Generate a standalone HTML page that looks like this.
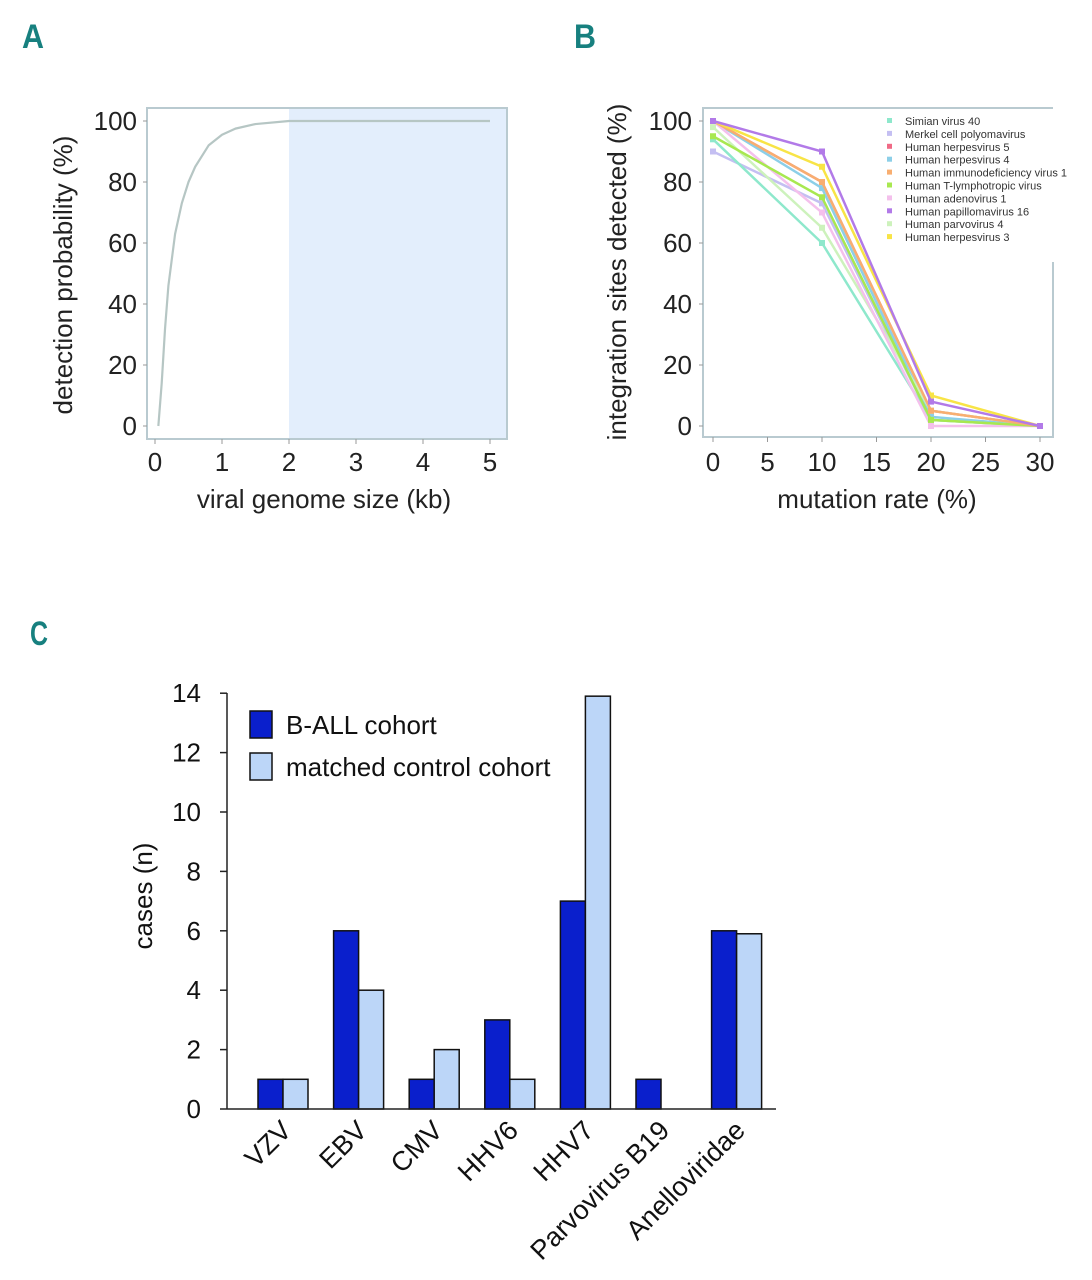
<!DOCTYPE html>
<html><head><meta charset="utf-8"><style>
html,body{margin:0;padding:0;background:#fff;}
svg{display:block;font-family:"Liberation Sans",sans-serif;}
.pl{font-family:"Liberation Sans Narrow","Liberation Sans",sans-serif;font-weight:bold;fill:#17807f;font-size:34px;}
</style></head><body>
<svg id="fig" width="1092" height="1280" viewBox="0 0 1092 1280">
<text class="pl" x="22" y="48" textLength="22" lengthAdjust="spacingAndGlyphs">A</text>
<text class="pl" x="574" y="48" textLength="22" lengthAdjust="spacingAndGlyphs">B</text>
<text class="pl" x="30" y="645" textLength="18" lengthAdjust="spacingAndGlyphs">C</text>
<g id="pa"></g>
<g id="pb"></g>
<g id="pc"></g>
</svg>
<script>
// Panel A data
const aX=[0.05,0.1,0.15,0.2,0.3,0.4,0.5,0.6,0.8,1.0,1.2,1.5,2.0,3.0,4.0,5.0];
const aY=[0,14,32,46,63,73,80,85,92,95.5,97.5,99,100,100,100,100];
const aTicksX=[0,1,2,3,4,5];
const aTicksY=[0,20,40,60,80,100];
const aShadeFrom=2;
// Panel B data
const bX=[0,10,20,30];
const bNames=["Simian virus 40","Merkel cell polyomavirus","Human herpesvirus 5","Human herpesvirus 4","Human immunodeficiency virus 1","Human T-lymphotropic virus","Human adenovirus 1","Human papillomavirus 16","Human parvovirus 4","Human herpesvirus 3"];
const bColors=["#8ee8cc","#c4bff2","#f06a86","#8ccfe8","#f8ae70","#a8e850","#f4c0ec","#b27ae8","#cdf2bc","#f8e446"];
const bSV40=[94,60,2,0];
const bMerkel=[90,73,2,0];
const bHHV5=[100,80,5,0];
const bHHV4=[100,78,3,0];
const bHIV=[100,80,5,0];
const bHTLV=[95,75,2,0];
const bAdeno=[100,70,0,0];
const bHPV=[100,90,8,0];
const bParvo=[98,65,5,0];
const bHHV3=[100,85,10,0];
const bTicksX=[0,5,10,15,20,25,30];
const bTicksY=[0,20,40,60,80,100];
// Panel C data
const cCats=["VZV","EBV","CMV","HHV6","HHV7","Parvovirus B19","Anelloviridae"];
const cBall=[1,6,1,3,7,1,6];
const cCtrl=[1,4,2,1,13.9,0,5.9];
const cTicks=[0,2,4,6,8,10,12,14];

const NS="http://www.w3.org/2000/svg";
function mk(p,t,a,txt){const e=document.createElementNS(NS,t);for(const k in a)e.setAttribute(k,a[k]);if(txt!==undefined)e.textContent=txt;p.appendChild(e);return e;}

// ---- Panel A
(function(){
const g=document.getElementById('pa');
const x=v=>155+v*67, y=v=>426-v*3.05;
let e=mk(g,'rect',{x:x(aShadeFrom),y:108,width:507-x(aShadeFrom),height:331,fill:'#e3eefc'});

e=mk(g,'rect',{x:147,y:108,width:360,height:331,fill:'none',stroke:'#b9cad0','stroke-width':2});

let d=aX.map((v,i)=>(i?'L':'M')+x(v)+','+y(aY[i])).join('');
e=mk(g,'path',{d:d,fill:'none',stroke:'#b6c6c4','stroke-width':2.2,'stroke-linejoin':'round'});

aTicksY.forEach(v=>{mk(g,'line',{x1:143,x2:147,y1:y(v),y2:y(v),stroke:'#999'});
 e=mk(g,'text',{x:137,y:y(v)+9,'text-anchor':'end','font-size':26,fill:'#222'},v);
 });
aTicksX.forEach(v=>{mk(g,'line',{x1:x(v),x2:x(v),y1:439,y2:444,stroke:'#999'});
 e=mk(g,'text',{x:x(v),y:471,'text-anchor':'middle','font-size':26,fill:'#222'},v);
 });
e=mk(g,'text',{x:324,y:508,'text-anchor':'middle','font-size':26,fill:'#222'},'viral genome size (kb)');

e=mk(g,'text',{x:0,y:0,'text-anchor':'middle','font-size':26,fill:'#222',transform:'translate(72,275) rotate(-90)'},'detection probability (%)');

})();

// ---- Panel B
(function(){
const g=document.getElementById('pb');
const x=v=>713+v*10.9, y=v=>426-v*3.05;
let e=mk(g,'path',{d:'M1053,262 L1053,437 L703,437 L703,108 L1053,108',fill:'none',stroke:'#b9cad0','stroke-width':2});

const series=[bSV40,bMerkel,bHHV5,bHHV4,bHIV,bHTLV,bAdeno,bHPV,bParvo,bHHV3];
const order=[2,3,1,0,8,6,5,4,9,7];
order.forEach(i=>{const s=series[i];
 const gg=mk(g,'g',{});
 
 mk(gg,'path',{d:bX.map((v,j)=>(j?'L':'M')+x(v)+','+y(s[j])).join(''),fill:'none',stroke:bColors[i],'stroke-width':2.5});
 bX.forEach((v,j)=>{const c=mk(gg,'rect',{x:x(v)-3,y:y(s[j])-3,width:6,height:6,fill:bColors[i]});
  });
});
bTicksY.forEach(v=>{mk(g,'line',{x1:699,x2:703,y1:y(v),y2:y(v),stroke:'#999'});
 e=mk(g,'text',{x:692,y:y(v)+9,'text-anchor':'end','font-size':26,fill:'#222'},v);
 });
bTicksX.forEach(v=>{mk(g,'line',{x1:x(v),x2:x(v),y1:437,y2:442,stroke:'#999'});
 e=mk(g,'text',{x:x(v),y:471,'text-anchor':'middle','font-size':26,fill:'#222'},v);
 });
e=mk(g,'text',{x:877,y:508,'text-anchor':'middle','font-size':26,fill:'#222'},'mutation rate (%)');

e=mk(g,'text',{x:0,y:0,'text-anchor':'middle','font-size':26,fill:'#222',transform:'translate(626,272) rotate(-90)'},'integration sites detected (%)');

const lg=mk(g,'g',{});
bNames.forEach((n,i)=>{const yy=121+i*12.9;
 mk(lg,'rect',{x:887,y:yy-3,width:5,height:5,fill:bColors[i]});
 const t=mk(lg,'text',{x:905,y:yy+4,'font-size':11,fill:'#333'},n);
 });
})();

// ---- Panel C
(function(){
const g=document.getElementById('pc');
const y=v=>1109-v*29.7;
const gx=i=>258+i*75.6, bw=25;
let e;
cBall.forEach((v,i)=>{e=mk(g,'rect',{x:gx(i),y:y(v),width:bw,height:1109-y(v),fill:'#0a1fcc',stroke:'#111','stroke-width':1.5});
 });
cCtrl.forEach((v,i)=>{if(v<=0)return;e=mk(g,'rect',{x:gx(i)+bw,y:y(v),width:bw,height:1109-y(v),fill:'#bcd6f8',stroke:'#111','stroke-width':1.5});
 });
e=mk(g,'line',{x1:227,x2:776,y1:1109,y2:1109,stroke:'#222','stroke-width':1.5});

e=mk(g,'line',{x1:227,x2:227,y1:693,y2:1109,stroke:'#222','stroke-width':1.5});

cTicks.forEach(v=>{mk(g,'line',{x1:220,x2:227,y1:y(v),y2:y(v),stroke:'#222','stroke-width':1.5});
 e=mk(g,'text',{x:201,y:y(v)+9,'text-anchor':'end','font-size':26,fill:'#111'},v);
 });
cCats.forEach((c,i)=>{const cx=gx(i)+bw+10;
 e=mk(g,'text',{x:0,y:0,'text-anchor':'end','font-size':27,fill:'#111',transform:'translate('+cx+',1132) rotate(-45)'},c);
 });
e=mk(g,'text',{x:0,y:0,'text-anchor':'middle','font-size':26,fill:'#111',transform:'translate(152,896) rotate(-90)'},'cases (n)');

mk(g,'rect',{x:250,y:711,width:22,height:27,fill:'#0a1fcc',stroke:'#111','stroke-width':1.5});
e=mk(g,'text',{x:286,y:734,'font-size':26,fill:'#111'},'B-ALL cohort');

mk(g,'rect',{x:250,y:753,width:22,height:27,fill:'#bcd6f8',stroke:'#111','stroke-width':1.5});
e=mk(g,'text',{x:286,y:776,'font-size':26,fill:'#111'},'matched control cohort');

})();
</script>
</body></html>
